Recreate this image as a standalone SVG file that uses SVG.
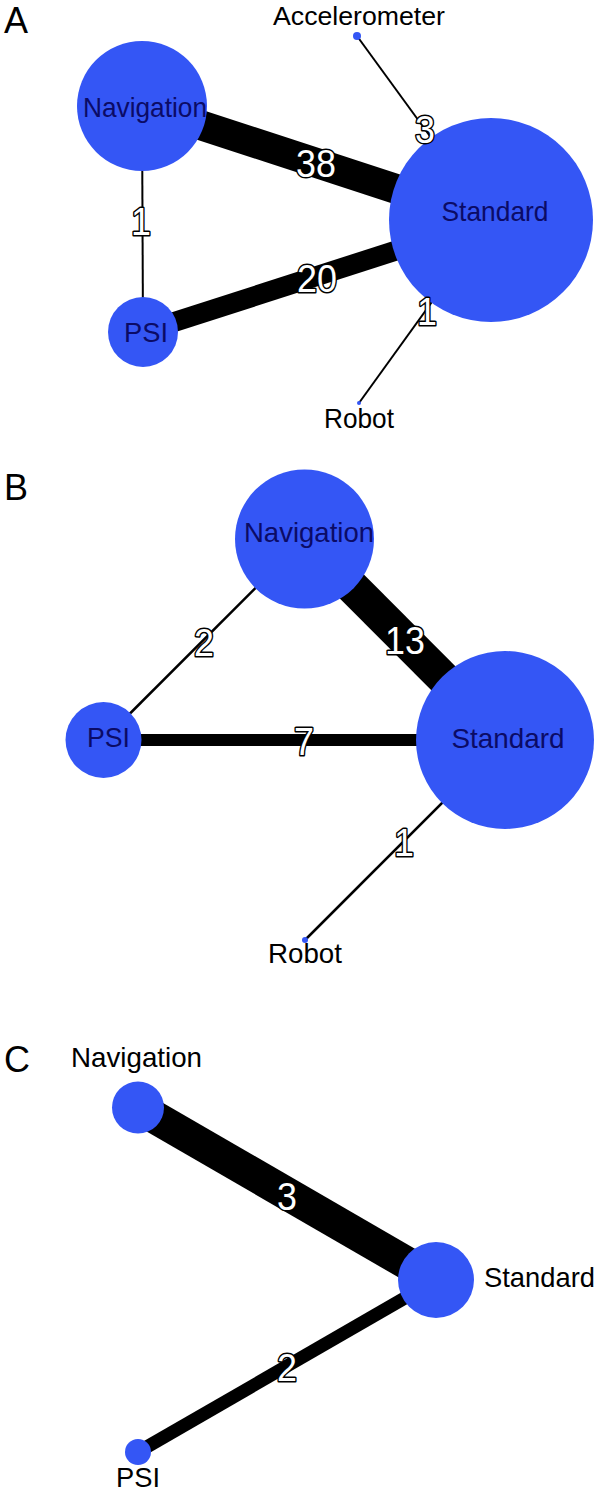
<svg xmlns="http://www.w3.org/2000/svg" width="596" height="1491" viewBox="0 0 596 1491">
  <style>
    .node { fill: #3456F5; }
    .lbl { font-family: "Liberation Sans", Arial, sans-serif; font-size: 28px; text-anchor: middle; }
    .in { fill: #0b0b66; }
    .out { fill: #000000; }
    .panel { font-family: "Liberation Sans", Arial, sans-serif; font-size: 36px; fill: #000; }
    .edge { stroke: #000; fill: none; }
    .elbl { font-family: "Liberation Sans", Arial, sans-serif; font-size: 39px; text-anchor: middle; fill: #fff; stroke: #000; stroke-width: 3; paint-order: stroke; stroke-linejoin: round; }
  </style>
  <rect width="596" height="1491" fill="#fff"/>

  <text class="panel" x="4" y="33">A</text>
  <text class="panel" x="4" y="500">B</text>
  <text class="panel" x="4" y="1072">C</text>

  <g id="edges">
    <!-- Panel A -->
    <line class="edge" x1="142" y1="106" x2="491" y2="220" stroke-width="30"/>
    <line class="edge" x1="143" y1="332" x2="491" y2="220" stroke-width="20"/>
    <line class="edge" x1="142" y1="106" x2="143" y2="332" stroke-width="2"/>
    <line class="edge" x1="357" y1="36" x2="491" y2="220" stroke-width="2"/>
    <line class="edge" x1="359" y1="403" x2="491" y2="220" stroke-width="2"/>
    <!-- Panel B -->
    <line class="edge" x1="304.5" y1="539" x2="505" y2="740" stroke-width="34"/>
    <line class="edge" x1="103.5" y1="740" x2="505" y2="740" stroke-width="12"/>
    <line class="edge" x1="103.5" y1="740" x2="304.5" y2="539" stroke-width="2.5"/>
    <line class="edge" x1="305" y1="940" x2="505" y2="740" stroke-width="2.5"/>
    <!-- Panel C -->
    <line class="edge" x1="138" y1="1107.5" x2="436" y2="1280" stroke-width="33"/>
    <line class="edge" x1="138" y1="1452" x2="436" y2="1280" stroke-width="13"/>
  </g>

  <!-- Panel A nodes -->
  <g id="A-Navigation">
    <circle class="node" cx="142" cy="106" r="65"/>
    <text class="lbl in" x="145" y="117" textLength="124" lengthAdjust="spacingAndGlyphs">Navigation</text>
  </g>
  <g id="A-Standard">
    <circle class="node" cx="491" cy="220" r="102"/>
    <text class="lbl in" x="495" y="221" textLength="107" lengthAdjust="spacingAndGlyphs">Standard</text>
  </g>
  <g id="A-PSI">
    <circle class="node" cx="143" cy="332" r="35"/>
    <text class="lbl in" x="146" y="342" textLength="44" lengthAdjust="spacingAndGlyphs">PSI</text>
  </g>
  <g id="A-Accelerometer">
    <circle class="node" cx="357" cy="36" r="4"/>
    <text class="lbl out" x="359" y="25" style="font-size:25px" textLength="172" lengthAdjust="spacingAndGlyphs">Accelerometer</text>
  </g>
  <g id="A-Robot">
    <circle class="node" cx="359" cy="403" r="2"/>
    <text class="lbl out" x="359" y="428" textLength="70" lengthAdjust="spacingAndGlyphs">Robot</text>
  </g>

  <!-- Panel B nodes -->
  <g id="B-Navigation">
    <circle class="node" cx="304.5" cy="539" r="69.5"/>
    <text class="lbl in" x="309" y="542" textLength="130" lengthAdjust="spacingAndGlyphs">Navigation</text>
  </g>
  <g id="B-Standard">
    <circle class="node" cx="505" cy="740" r="89"/>
    <text class="lbl in" x="508" y="748" textLength="113" lengthAdjust="spacingAndGlyphs">Standard</text>
  </g>
  <g id="B-PSI">
    <circle class="node" cx="103.5" cy="740" r="38"/>
    <text class="lbl in" x="108.5" y="747" textLength="43" lengthAdjust="spacingAndGlyphs">PSI</text>
  </g>
  <g id="B-Robot">
    <circle class="node" cx="305" cy="940" r="3"/>
    <text class="lbl out" x="305" y="963" textLength="74" lengthAdjust="spacingAndGlyphs">Robot</text>
  </g>

  <!-- Panel C nodes -->
  <g id="C-Navigation">
    <circle class="node" cx="138" cy="1107.5" r="26"/>
    <text class="lbl out" x="136.5" y="1067" textLength="131" lengthAdjust="spacingAndGlyphs">Navigation</text>
  </g>
  <g id="C-Standard">
    <circle class="node" cx="436" cy="1280" r="38"/>
    <text class="lbl out" x="484" y="1287" style="text-anchor:start" textLength="111" lengthAdjust="spacingAndGlyphs">Standard</text>
  </g>
  <g id="C-PSI">
    <circle class="node" cx="138" cy="1452" r="13"/>
    <text class="lbl out" x="138" y="1487" textLength="44" lengthAdjust="spacingAndGlyphs">PSI</text>
  </g>

  <g id="edge-labels">
    <text class="elbl" transform="translate(316,177) scale(0.92,1)">38</text>
    <text class="elbl" transform="translate(317,291.5) scale(0.92,1)">20</text>
    <text class="elbl" transform="translate(141,234.5) scale(0.92,1)">1</text>
    <text class="elbl" transform="translate(425,143) scale(0.92,1)">3</text>
    <text class="elbl" transform="translate(427,325) scale(0.92,1)">1</text>
    <text class="elbl" transform="translate(405,654) scale(0.92,1)">13</text>
    <text class="elbl" transform="translate(204,656) scale(0.92,1)">2</text>
    <text class="elbl" transform="translate(304,755) scale(0.92,1)">7</text>
    <text class="elbl" transform="translate(404,856) scale(0.92,1)">1</text>
    <text class="elbl" transform="translate(287,1210) scale(0.92,1)">3</text>
    <text class="elbl" transform="translate(287,1381) scale(0.92,1)">2</text>
  </g>
</svg>
